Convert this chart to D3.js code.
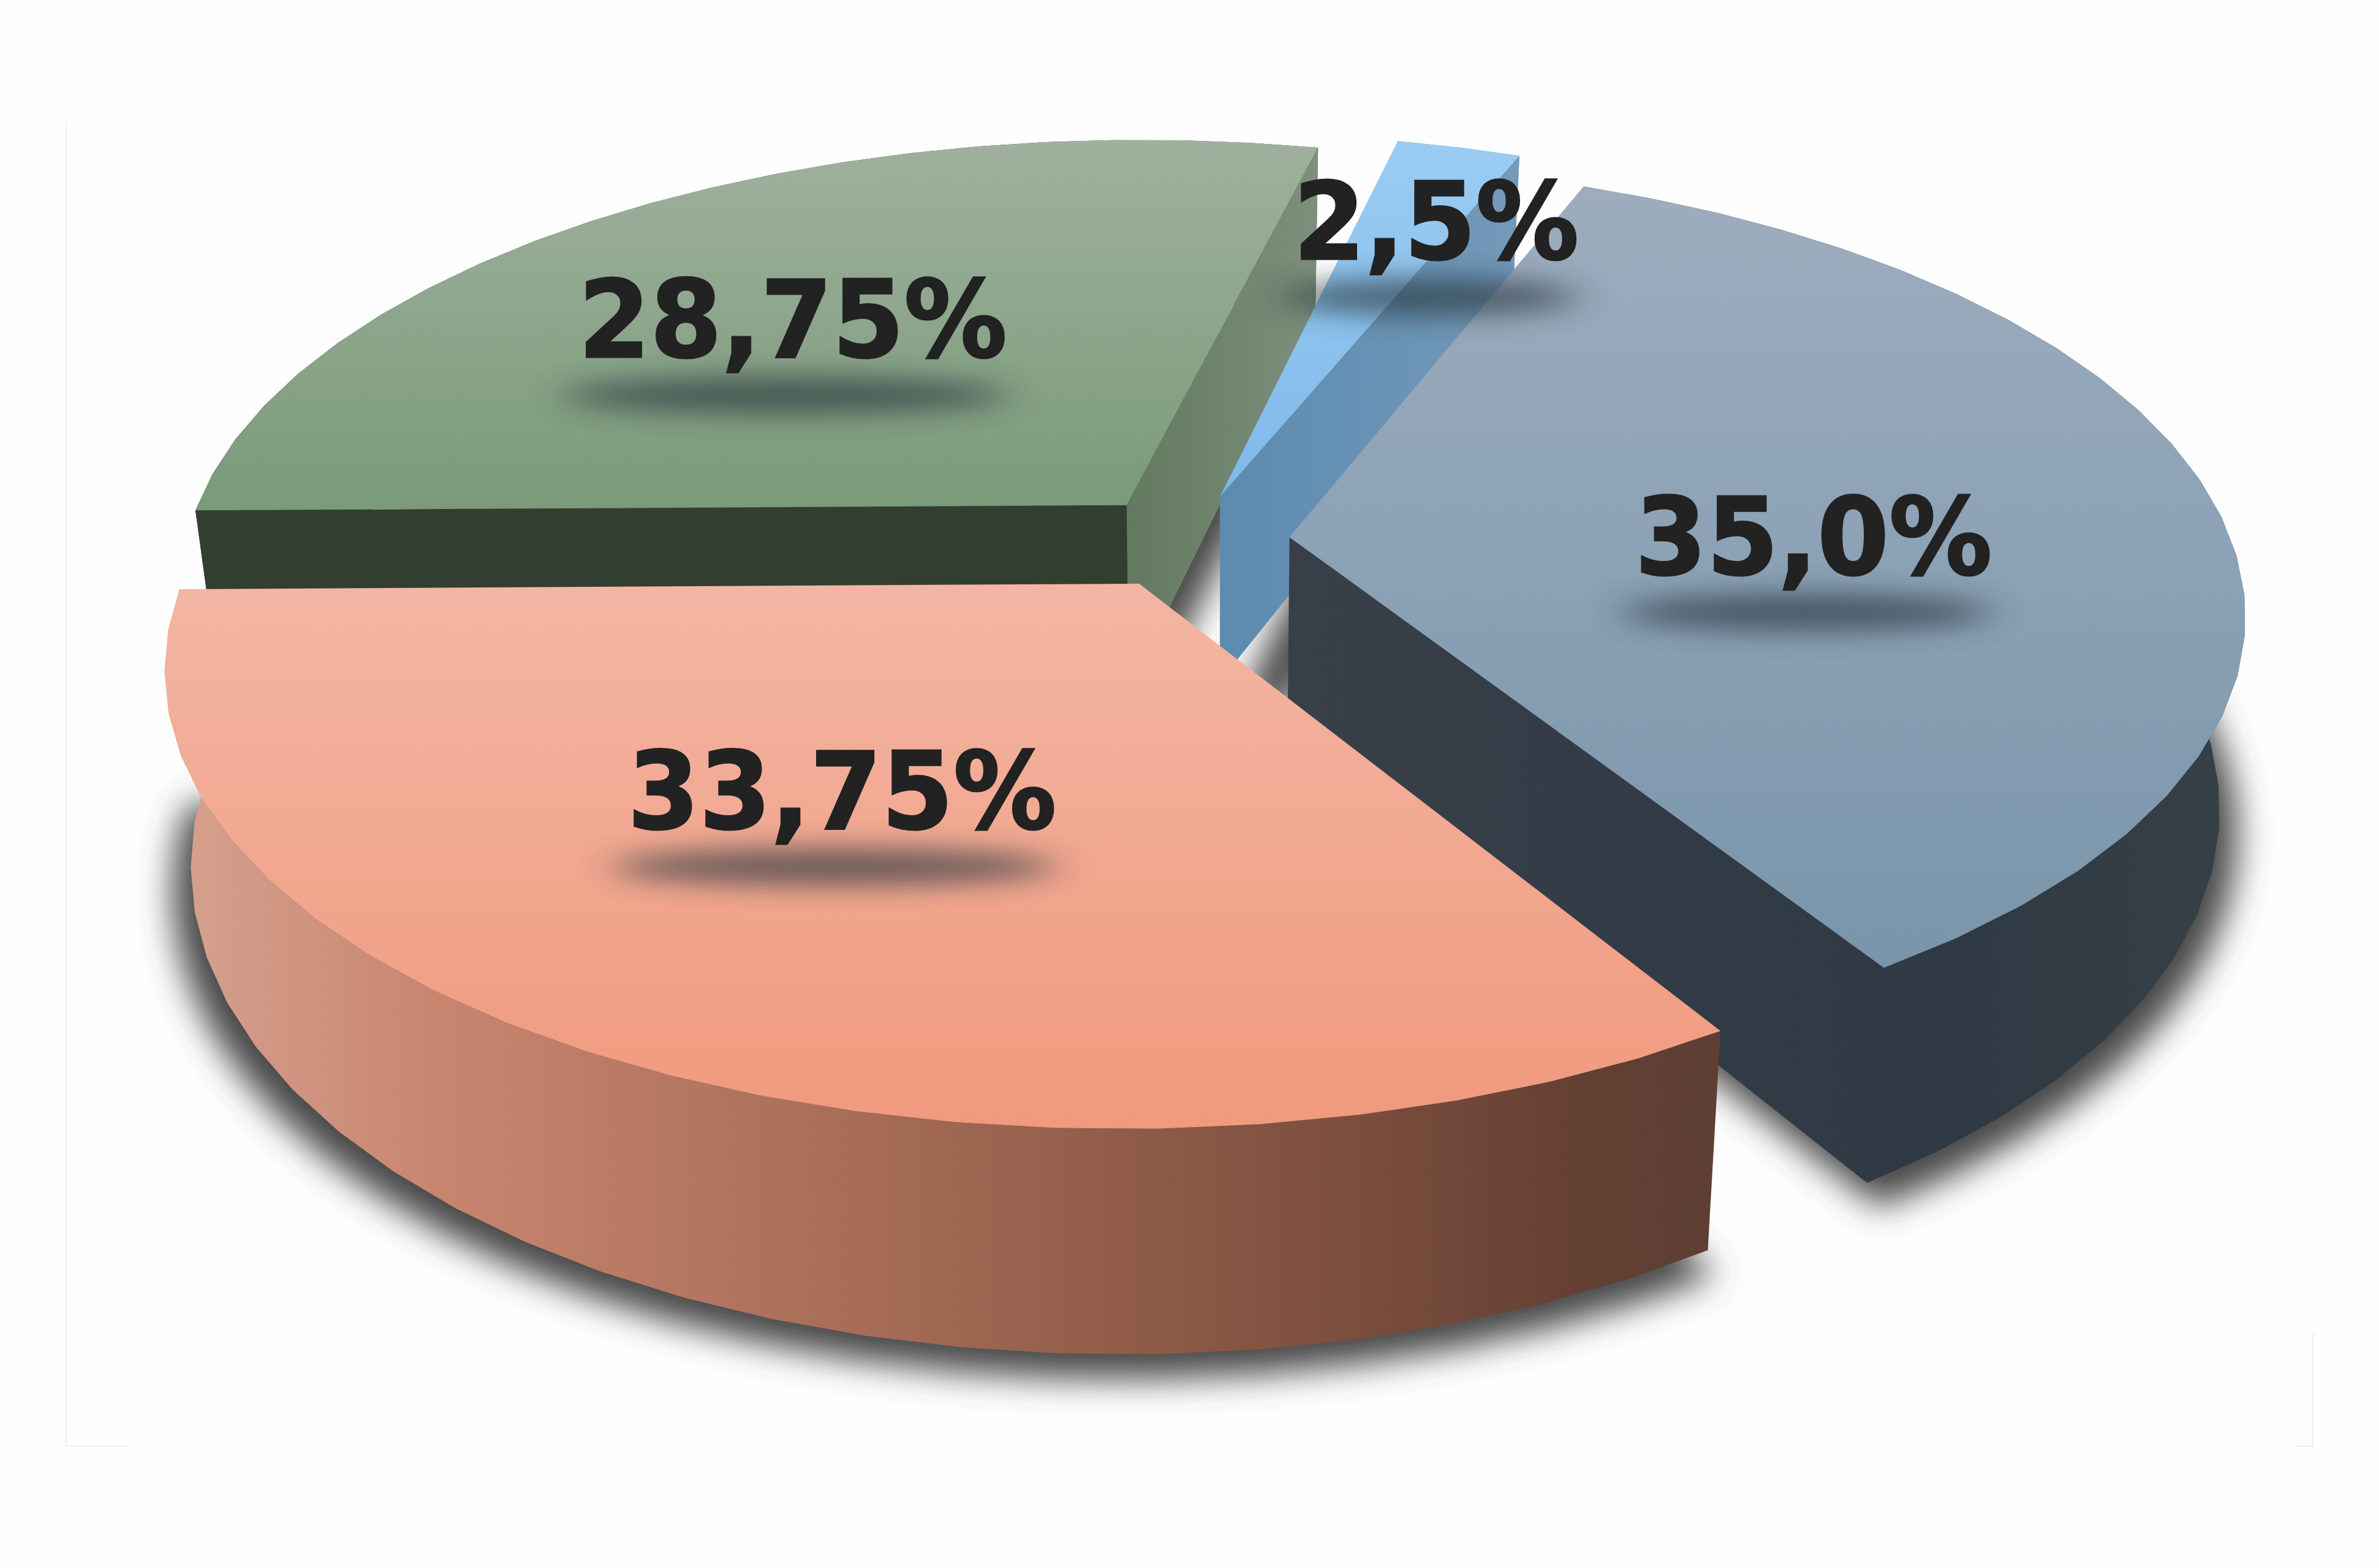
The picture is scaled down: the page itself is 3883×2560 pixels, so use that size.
<!DOCTYPE html>
<html>
<head>
<meta charset="utf-8">
<script src="https://cdn.jsdelivr.net/npm/d3@7"></script>
<style>
html,body{margin:0;padding:0;background:#fefefe;}
svg{display:block;}
</style>
</head>
<body>
<script>
// ---- data ----
const sliceValues = [28.75, 2.5, 35, 33.75];
const sliceLabels = ["28,75%", "2,5%", "35,0%", "33,75%"];

// ---- exploded offset of each slice, as a fraction of the radius ----
const sliceExplode = [0.108, 0.11, 0.107, 0.108];

// ---- label placement: radius fraction, angle shift from the slice middle (deg), small x nudge ----
const labelRadius = [0.614, 0.768, 0.557, 0.514];
const labelShift = [-1.5, 1.8, 5.3, 5.2];
const labelNudgeX = [4, 12, 0, 8];

// ---- pie shadow per slice ----
const shadowShiftX = [30, 60, 0, 0];
const shadowShiftY = [36, 50, 40, 40];
const shadowSpread = [0, 60, 0, 0];

// ---- styles ----
const topColors = [["#9fb19e","#7a9a78"],["#9bccf3","#7fb9e8"],["#9dadbe","#7995ab"],["#f3b6a4","#f0997d"]];
const startFaceColors = [["#323e30","#323e30"],["#5c8cb0","#5c8cb0"],["#8a9db0","#8a9db0"],["#f0a088","#f0a088"]];
const endFaceColors = [["#62795f","#7d907c"],["#5b8bb0","#7499b9"],["#383f49","#2f3a44"],["#c08a76","#c08a76"]];
const wallStops = [
  [[0,"#323e30"],[1,"#323e30"]],
  [[0,"#5b8bb0"],[1,"#7499b9"]],
  [[0,"#2f3a44"],[0.6,"#303a44"],[1,"#354047"]],
  [[0,"#d6a390"],[0.17,"#c88670"],[0.45,"#a66c56"],[0.72,"#825240"],[0.92,"#623f33"],[1,"#5f3e33"]]
];

// ---- layout ----
const W = 3883, H = 2560;
const K = 0.168;                 // perspective strength
const cx = 1941, cy = 884;       // projected pie centre
const RX = 1538, RY = 715;       // projected radii at v = 0
const shear = 0.015;
const vanishX = 1981, baseShrink = 0.975;
const stepDeg = 5;
const rotation = -0.7 * Math.PI / 180;

const xScale = d3.scaleLinear().domain([-1, 1]).range([cx - RX, cx + RX]);
const yScale = d3.scaleLinear().domain([-1, 1]).range([cy - RY, cy + RY]);
const depthScale = d3.scaleLinear().domain([240, 1684]).range([265, 358]);

function project(u, v) {
  const w = 1 - K * v;
  const y = yScale(v / w);
  return [xScale(u / w) - shear * (y - cy), y];
}
function toBase(p) {
  return [vanishX + (p[0] - vanishX) * baseShrink, p[1] + depthScale(p[1])];
}

const pie = d3.pie().sort(null).value(d => d)
  .startAngle(Math.PI * 1.5 + rotation).endAngle(Math.PI * 3.5 + rotation);
const arcs = pie(sliceValues);

const svg = d3.select("body").append("svg").attr("width", W).attr("height", H).attr("viewBox", [0, 0, W, H]);
svg.append("rect").attr("width", W).attr("height", H).attr("fill", "#fefefe");

// faint remains of a frame
svg.append("path").attr("d", "M108,198V2361H210").attr("fill", "none").attr("stroke", "#f0f0f0").attr("stroke-width", 2);
svg.append("path").attr("d", "M3747,2361H3775V2178").attr("fill", "none").attr("stroke", "#eeeeee").attr("stroke-width", 2);

const defs = svg.append("defs");
const blur = defs.append("filter").attr("id", "pieShadow")
  .attr("x", -0.3).attr("y", -0.3).attr("width", 1.6).attr("height", 1.6);
blur.append("feGaussianBlur").attr("stdDeviation", 28);
const blurLabel = defs.append("filter").attr("id", "labelShadow")
  .attr("x", -0.4).attr("y", -3).attr("width", 1.8).attr("height", 7);
blurLabel.append("feGaussianBlur").attr("stdDeviation", "32 22");

function gradient(id, x1, y1, x2, y2, stops) {
  const g = defs.append("linearGradient").attr("id", id).attr("gradientUnits", "userSpaceOnUse")
    .attr("x1", x1).attr("y1", y1).attr("x2", x2).attr("y2", y2);
  stops.forEach(s => g.append("stop").attr("offset", s[0]).attr("stop-color", s[1]));
  return `url(#${id})`;
}
const line = d3.line();

const slices = arcs.map((a, i) => {
  const mid = (a.startAngle + a.endAngle) / 2;
  const e = sliceExplode[i];
  const ou = e * Math.sin(mid), ov = -e * Math.cos(mid);
  const span = a.endAngle - a.startAngle;
  const n = Math.max(2, Math.round(span / (stepDeg * Math.PI / 180)));
  const rim = d3.range(n + 1).map(j => {
    const t = a.startAngle + span * j / n;
    return project(ou + Math.sin(t), ov - Math.cos(t));
  });
  const apex = project(ou, ov);
  const la = mid + labelShift[i] * Math.PI / 180;
  const lp = project(ou + labelRadius[i] * Math.sin(la), ov - labelRadius[i] * Math.cos(la));
  lp[0] += labelNudgeX[i];
  return { i, rim, apex, lp };
});

// pie shadows: blurred copies of the bases
const shadowG = svg.append("g");
slices.forEach(s => {
  const pts = [s.apex, ...s.rim].map(toBase)
    .map(p => [vanishX + (p[0] - vanishX) * 1.018 + shadowShiftX[s.i], p[1] + shadowShiftY[s.i]]);
  shadowG.append("path").attr("d", line(pts) + "Z").attr("fill", "#474747")
    .attr("stroke", "#474747").attr("stroke-width", shadowSpread[s.i])
    .attr("filter", "url(#pieShadow)");
});

// slices, far ones first
slices.forEach(s => {
  const i = s.i, g = svg.append("g");
  const first = s.rim[0], last = s.rim[s.rim.length - 1];
  const topPoly = [s.apex, ...s.rim];
  const xs = s.rim.map(p => p[0]), ys = topPoly.map(p => p[1]);
  const wallFill = gradient(`wall${i}`, d3.min(xs), 0, d3.max(xs), 0, wallStops[i]);
  // outer wall: one quad per rim facet, so the silhouette keeps its straight sides
  const quads = d3.pairs(s.rim).map(([p, q]) => line([p, q, toBase(q), toBase(p)]) + "Z").join("");
  g.append("path").attr("d", quads).attr("fill", wallFill).attr("fill-rule", "nonzero");

  const face = (p, cols, name) => {
    const b0 = toBase(s.apex), b1 = toBase(p);
    // a cut face is seen only if its lower edge falls outside the slice's top
    if (d3.polygonContains(topPoly, [(b0[0] + b1[0]) / 2, (b0[1] + b1[1]) / 2])) return;
    const pts = [s.apex, p, b1, b0];
    const fill = gradient(`${name}${i}`, Math.min(s.apex[0], p[0]), 0, Math.max(s.apex[0], p[0]), 0,
      [[0, s.apex[0] < p[0] ? cols[0] : cols[1]], [1, s.apex[0] < p[0] ? cols[1] : cols[0]]]);
    g.append("path").attr("d", line(pts) + "Z").attr("fill", fill);
  };
  face(first, startFaceColors[i], "startFace");
  face(last, endFaceColors[i], "endFace");

  const topFill = gradient(`top${i}`, 0, d3.min(ys), 0, d3.max(ys), [[0, topColors[i][0]], [1, topColors[i][1]]]);
  g.append("path").attr("d", line(topPoly) + "Z").attr("fill", topFill);
});

// labels with their soft shadows
const labelG = svg.append("g");
const fontSize = 175;
const textStretch = 0.96;
slices.forEach(s => {
  const shadow = labelG.append("ellipse").attr("fill", "#25343c").attr("opacity", 0.68).attr("filter", "url(#labelShadow)");
  const t = labelG.append("text")
    .attr("transform", `translate(${s.lp[0]},${s.lp[1] + 60}) scale(${textStretch},1)`)
    .attr("text-anchor", "middle")
    .attr("font-family", "'DejaVu Sans', sans-serif")
    .attr("font-weight", "bold").attr("font-size", fontSize)
    .attr("fill", "#222222").attr("stroke", "#222222").attr("stroke-width", 3)
    .text(sliceLabels[s.i]);
  const len = t.node().getComputedTextLength() * textStretch;
  shadow.attr("cx", s.lp[0] - 12).attr("rx", len * 0.52)
    .attr("cy", s.lp[1] + 60 + 62).attr("ry", 30);
});
</script>
</body>
</html>
